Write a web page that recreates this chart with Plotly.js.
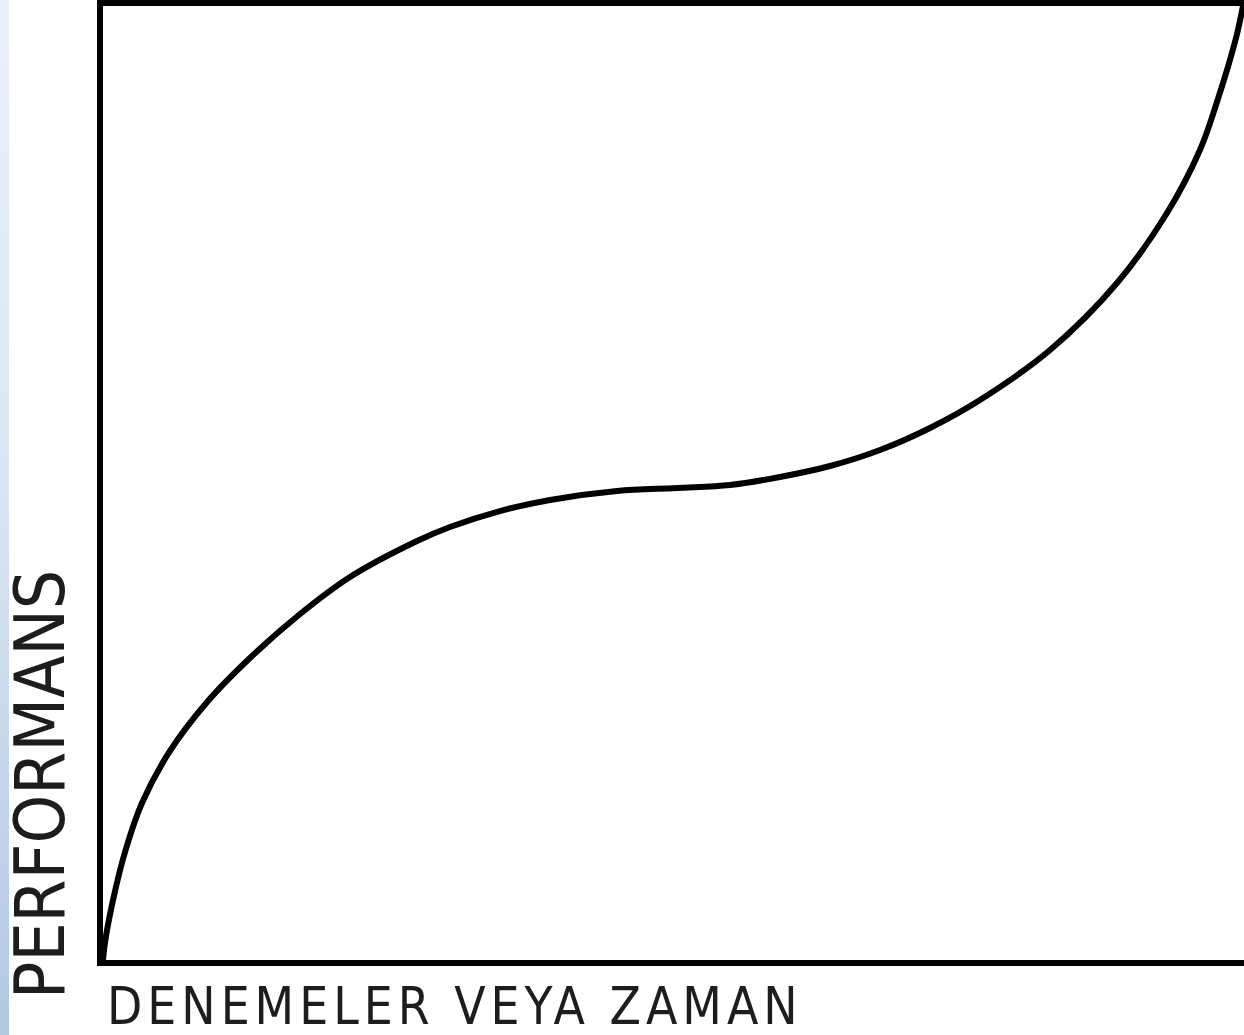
<!DOCTYPE html>
<html>
<head>
<meta charset="utf-8">
<script src="https://cdn.plot.ly/plotly-3.0.1.min.js"></script>
<style>
  html, body { margin: 0; padding: 0; background: #ffffff; overflow: hidden; }
  #strip { position: absolute; left: 0; top: 0; width: 9px; height: 1035px;
           background: linear-gradient(to bottom, #eaf0f8 0%, #dce6f2 45%, #b2c8e3 100%); z-index: 2; }
  #chart { position: absolute; left: 0; top: 0; width: 1244px; height: 1035px; }
  .xlab .annotation-text { letter-spacing: 5px; }
</style>
</head>
<body>
<div id="strip"></div>
<div id="chart"></div>
<script>
// Learning curve (trials/time vs performance, 0-10 scale)
const trials = [0, 0.018, 0.088, 0.193, 0.342, 0.587, 0.920, 1.288, 1.727, 2.165, 2.752, 3.041, 3.479,
                3.918, 4.505, 5.031, 5.495, 5.933, 6.372, 6.810, 7.248, 7.686, 8.300, 8.887, 9.325,
                9.614, 9.763, 9.930, 9.991];
const performance = [0, 0.189, 0.629, 1.132, 1.646, 2.191, 2.715, 3.166, 3.627, 4.015, 4.392, 4.539, 4.706,
                     4.822, 4.916, 4.948, 4.979, 5.063, 5.178, 5.346, 5.577, 5.870, 6.394, 7.096, 7.830,
                     8.491, 8.994, 9.665, 10.0];
const xLabel = "DENEMELER VEYA ZAMAN";
const yLabel = "PERFORMANS";

const fontFam = '"Liberation Sans Narrow", "Arial Narrow", "DejaVu Sans Condensed", "Liberation Sans", sans-serif';

const trace = {
  x: trials, y: performance, type: 'scatter', mode: 'lines',
  line: { color: '#000000', width: 6, shape: 'spline', smoothing: 1, simplify: false },
  hoverinfo: 'skip', showlegend: false
};

const layout = {
  width: 1244, height: 1035,
  margin: { l: 103, r: 0, t: 6, b: 75, pad: 0 },
  paper_bgcolor: 'rgba(0,0,0,0)', plot_bgcolor: '#ffffff',
  xaxis: { range: [0, 10], showgrid: false, zeroline: false, showticklabels: false, ticks: '',
           showline: true, linecolor: '#000000', linewidth: 6, mirror: true, fixedrange: true },
  yaxis: { range: [0, 10], showgrid: false, zeroline: false, showticklabels: false, ticks: '',
           showline: true, linecolor: '#000000', linewidth: 6, mirror: false, fixedrange: true },
  annotations: [
    { text: xLabel, xref: 'paper', yref: 'paper', x: 0.3085, y: -0.049, xanchor: 'center', yanchor: 'middle',
      showarrow: false, font: { family: fontFam, size: 51, color: '#1e1c1d' } },
    { text: yLabel, xref: 'paper', yref: 'paper', x: -0.0552, y: 0.1834, xanchor: 'center', yanchor: 'middle',
      textangle: -90, showarrow: false, font: { family: fontFam, size: 69, color: '#1e1c1d' } }
  ]
};

Plotly.newPlot('chart', [trace], layout, { displayModeBar: false, staticPlot: true }).then(function () {
  const anns = document.querySelectorAll('.annotation');
  if (anns.length) anns[0].classList.add('xlab');
});
</script>
</body>
</html>
